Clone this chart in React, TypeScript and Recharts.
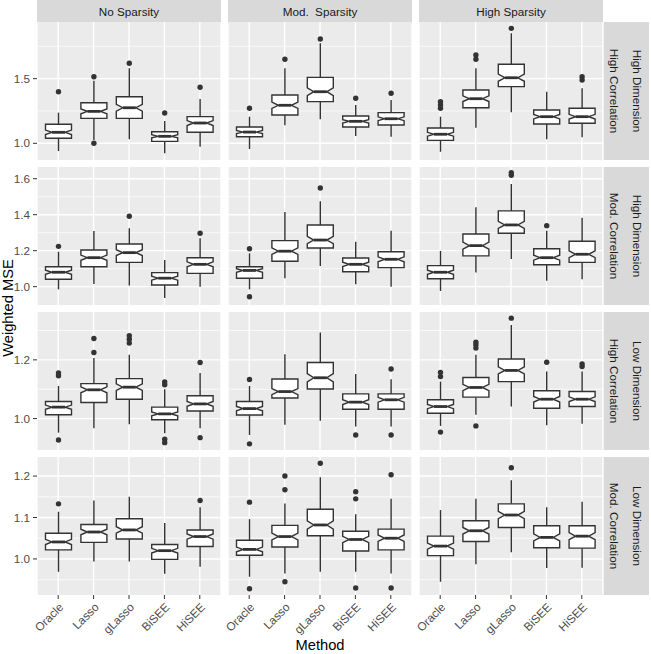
import React from 'react';
import { ComposedChart, Bar, XAxis, YAxis, CartesianGrid } from 'recharts';

const methods = ['Oracle', 'Lasso', 'gLasso', 'BiSEE', 'HiSEE'];
const sparsity = ['No Sparsity', 'Mod.  Sparsity', 'High Sparsity'];
const correlation = ['High Correlation', 'Mod. Correlation', 'High Correlation', 'Mod. Correlation'];
const dimension = ['High Dimension', 'High Dimension', 'Low Dimension', 'Low Dimension'];

// simulation runs behind each box (used for the notch width)
const N_RUNS = 100;

// each row: [lower whisker, Q1, median, Q3, upper whisker] for Oracle, Lasso, gLasso, BiSEE, HiSEE
const hdHcNone = [[0.940, 1.039, 1.085, 1.147, 1.237], [1.026, 1.193, 1.247, 1.314, 1.484], [1.031, 1.193, 1.275, 1.360, 1.580], [0.923, 1.015, 1.054, 1.090, 1.172], [0.974, 1.085, 1.157, 1.206, 1.343]];
const hdHcNoneOut = [[1.399], [1.515, 1.0], [1.619], [1.234], [1.433]];
const hdHcMod = [[0.956, 1.051, 1.087, 1.126, 1.206], [1.139, 1.219, 1.294, 1.374, 1.580], [1.186, 1.322, 1.399, 1.510, 1.773], [1.056, 1.126, 1.170, 1.211, 1.296], [1.051, 1.142, 1.190, 1.237, 1.335]];
const hdHcModOut = [[1.271], [1.650], [1.807], [1.348], [1.387]];
const hdHcHigh = [[0.935, 1.023, 1.070, 1.118, 1.206], [1.121, 1.275, 1.345, 1.412, 1.580], [1.240, 1.438, 1.507, 1.611, 1.851], [1.031, 1.149, 1.206, 1.258, 1.399], [1.046, 1.155, 1.206, 1.271, 1.425]];
const hdHcHighOut = [[1.271, 1.296, 1.322], [1.650, 1.683], [1.889], [], [1.490, 1.515]];

const hdMcNone = [[0.985, 1.041, 1.080, 1.111, 1.194], [1.015, 1.111, 1.161, 1.204, 1.309], [1.006, 1.135, 1.189, 1.237, 1.324], [0.937, 1.009, 1.047, 1.078, 1.148], [1.000, 1.074, 1.124, 1.161, 1.269]];
const hdMcNoneOut = [[1.224], [], [1.391], [], [1.297]];
const hdMcMod = [[0.985, 1.047, 1.090, 1.111, 1.185], [1.047, 1.141, 1.197, 1.256, 1.415], [1.115, 1.215, 1.259, 1.343, 1.474], [1.013, 1.083, 1.124, 1.159, 1.250], [1.000, 1.106, 1.152, 1.194, 1.311]];
const hdMcModOut = [[1.211, 0.944], [], [1.548], [], []];
const hdMcHigh = [[0.976, 1.044, 1.080, 1.117, 1.198], [1.078, 1.171, 1.228, 1.293, 1.441], [1.154, 1.297, 1.343, 1.421, 1.571], [1.033, 1.122, 1.161, 1.211, 1.311], [1.041, 1.135, 1.180, 1.252, 1.383]];
const hdMcHighOut = [[], [], [1.619, 1.633], [1.339], []];

const ldHcNone = [[0.952, 1.013, 1.039, 1.058, 1.111], [0.967, 1.055, 1.098, 1.119, 1.206], [0.981, 1.066, 1.107, 1.136, 1.217], [0.950, 0.996, 1.016, 1.039, 1.100], [0.967, 1.026, 1.050, 1.078, 1.155]];
const ldHcNoneOut = [[1.146, 1.155, 0.927], [1.225, 1.273], [1.257, 1.270, 1.282], [1.115, 1.125, 0.930, 0.918], [1.191, 0.935]];
const ldHcMod = [[0.944, 1.012, 1.034, 1.058, 1.111], [0.979, 1.070, 1.092, 1.135, 1.219], [0.993, 1.101, 1.139, 1.191, 1.293], [0.973, 1.032, 1.056, 1.084, 1.152], [0.973, 1.032, 1.064, 1.084, 1.134]];
const ldHcModOut = [[1.133, 0.914], [], [], [0.944], [1.169, 0.944]];
const ldHcHigh = [[0.975, 1.018, 1.041, 1.064, 1.126], [1.013, 1.073, 1.106, 1.140, 1.217], [1.041, 1.126, 1.164, 1.203, 1.319], [0.977, 1.035, 1.066, 1.095, 1.160], [0.982, 1.041, 1.066, 1.092, 1.160]];
const ldHcHighOut = [[1.143, 1.157, 0.954], [1.240, 1.251, 1.260, 0.975], [1.342], [1.192], [1.177, 1.186]];

const ldMcNone = [[0.969, 1.022, 1.041, 1.062, 1.114], [0.994, 1.040, 1.065, 1.083, 1.141], [0.994, 1.048, 1.070, 1.097, 1.150], [0.964, 0.999, 1.020, 1.035, 1.087], [0.981, 1.030, 1.054, 1.070, 1.125]];
const ldMcNoneOut = [[1.133], [], [], [], [1.141]];
const ldMcMod = [[0.957, 1.009, 1.023, 1.045, 1.096], [0.965, 1.029, 1.054, 1.081, 1.134], [0.969, 1.056, 1.082, 1.120, 1.197], [0.969, 1.019, 1.047, 1.067, 1.108], [0.965, 1.022, 1.050, 1.072, 1.145]];
const ldMcModOut = [[1.137, 0.928], [1.167, 1.200, 0.945], [1.231], [1.145, 1.162, 0.930], [1.203, 0.930]];
const ldMcHigh = [[0.945, 1.008, 1.031, 1.055, 1.118], [0.987, 1.042, 1.068, 1.092, 1.145], [1.016, 1.076, 1.106, 1.133, 1.190], [0.978, 1.027, 1.052, 1.080, 1.125], [0.979, 1.026, 1.055, 1.080, 1.138]];
const ldMcHighOut = [[], [], [1.220], [], []];

// y scales are free per row
const rowDomains = [[0.871, 1.938], [0.898, 1.665], [0.893, 1.363], [0.913, 1.246]];
const rowTicks = [[1.0, 1.5], [1.0, 1.2, 1.4, 1.6], [1.0, 1.2], [1.0, 1.1, 1.2]];
const rowMinor = [[1.25, 1.75], [0.9, 1.1, 1.3, 1.5], [0.9, 1.1, 1.3], [0.95, 1.05, 1.15]];

const panelStats = [
  [[hdHcNone, hdHcNoneOut], [hdHcMod, hdHcModOut], [hdHcHigh, hdHcHighOut]],
  [[hdMcNone, hdMcNoneOut], [hdMcMod, hdMcModOut], [hdMcHigh, hdMcHighOut]],
  [[ldHcNone, ldHcNoneOut], [ldHcMod, ldHcModOut], [ldHcHigh, ldHcHighOut]],
  [[ldMcNone, ldMcNoneOut], [ldMcMod, ldMcModOut], [ldMcHigh, ldMcHighOut]],
];

const FONT = '"Liberation Sans", Arial, Helvetica, sans-serif';
const PANEL_LEFT = [37, 228, 419];
const PANEL_W = 184;
const PANEL_TOP = [22, 167, 312, 457];
const PANEL_H = 138;
const Y_AXIS_W = 37;
const X_AXIS_H = 56;

const toRows = (stats: number[][], out: number[][]) =>
  methods.map((m, i) => ({
    method: m,
    lo: stats[i][0], q1: stats[i][1], med: stats[i][2], q3: stats[i][3], hi: stats[i][4],
    out: out[i],
  }));

const BoxShape = (props: any) => {
  const { x, y, width, height, payload } = props;
  const { lo, q1, med, q3, hi, out } = payload;
  const py = (v: number) => y + (height * (hi - v)) / (hi - lo);
  const cx = x + width / 2;
  const notch = (1.58 * (q3 - q1)) / Math.sqrt(N_RUNS);
  const ind = width * 0.25;
  const x0 = x;
  const x1 = x + width;
  const pts = [
    [x0, py(q3)], [x0, py(med + notch)], [x0 + ind, py(med)], [x0, py(med - notch)], [x0, py(q1)],
    [x1, py(q1)], [x1, py(med - notch)], [x1 - ind, py(med)], [x1, py(med + notch)], [x1, py(q3)],
  ].map((p) => p.join(',')).join(' ');
  return (
    <g>
      <line x1={cx} x2={cx} y1={py(hi)} y2={py(q3)} stroke="#333333" strokeWidth={1.4} />
      <line x1={cx} x2={cx} y1={py(q1)} y2={py(lo)} stroke="#333333" strokeWidth={1.4} />
      <polygon points={pts} fill="#ffffff" stroke="#333333" strokeWidth={1.4} />
      <line x1={x0 + ind} x2={x1 - ind} y1={py(med)} y2={py(med)} stroke="#333333" strokeWidth={2.8} />
      {out.map((v: number, i: number) => (
        <circle key={i} cx={cx} cy={py(v)} r={2.7} fill="#333333" />
      ))}
    </g>
  );
};

const AngledTick = (props: any) => {
  const { x, y, payload } = props;
  return (
    <text x={x} y={y} dy="0.72em" textAnchor="end" transform={`rotate(-45, ${x}, ${y})`}
      fontSize={11.7} fill="#4D4D4D" fontFamily={FONT}>
      {payload.value}
    </text>
  );
};

function Panel({ row, col }: { row: number; col: number }) {
  const [stats, out] = panelStats[row][col];
  const data = toRows(stats, out);
  const showY = col === 0;
  const showX = row === 3;
  const w = PANEL_W + (showY ? Y_AXIS_W : 0);
  const h = PANEL_H + (showX ? X_AXIS_H : 0);
  return (
    <div style={{ position: 'absolute', left: PANEL_LEFT[col] - (showY ? Y_AXIS_W : 0), top: PANEL_TOP[row] }}>
      <ComposedChart width={w} height={h} data={data} margin={{ top: 0, right: 0, bottom: 0, left: 0 }}>
        <CartesianGrid fill="#EBEBEB" stroke="#ffffff" strokeWidth={0.7} vertical={false} horizontalValues={rowMinor[row]} />
        <CartesianGrid stroke="#ffffff" strokeWidth={1.4} horizontalValues={rowTicks[row]} />
        <XAxis dataKey="method" hide={!showX} height={X_AXIS_H} padding={{ left: 3.5, right: 3.5 }}
          axisLine={false} tickLine={{ stroke: '#333333' }} tickSize={4} tickMargin={3}
          tick={<AngledTick />} interval={0} />
        <YAxis type="number" domain={rowDomains[row]} allowDataOverflow ticks={rowTicks[row]} hide={!showY}
          width={Y_AXIS_W} axisLine={false} tickLine={{ stroke: '#333333' }} tickSize={4} tickMargin={3}
          tickFormatter={(v: number) => v.toFixed(1)}
          tick={{ fontSize: 11.7, fill: '#4D4D4D', fontFamily: FONT }} />
        <Bar dataKey={(d: any) => [d.lo, d.hi]} barSize={26} shape={BoxShape} isAnimationActive={false} />
      </ComposedChart>
    </div>
  );
}

export default function App() {
  const rightStrip1 = PANEL_LEFT[2] + PANEL_W;
  return (
    <div style={{ position: 'absolute', left: 0, top: 0, width: 651, height: 654, background: '#ffffff', fontFamily: FONT }}>
      <style>{'.recharts-surface{overflow:visible}'}</style>
      <svg width={651} height={654} style={{ position: 'absolute', left: 0, top: 0 }}>
        {sparsity.map((s, c) => (
          <g key={s}>
            <rect x={PANEL_LEFT[c]} y={0} width={PANEL_W} height={PANEL_TOP[0]} fill="#D9D9D9" />
            <text x={PANEL_LEFT[c] + PANEL_W / 2} y={PANEL_TOP[0] / 2} textAnchor="middle" dominantBaseline="central"
              fontSize={11.7} fill="#1A1A1A" style={{ whiteSpace: 'pre' }}>{s}</text>
          </g>
        ))}
        {correlation.map((c, r) => (
          <g key={r}>
            <rect x={rightStrip1} y={PANEL_TOP[r]} width={23} height={PANEL_H} fill="#D9D9D9" />
            <rect x={rightStrip1 + 23} y={PANEL_TOP[r]} width={23} height={PANEL_H} fill="#D9D9D9" />
            <text transform={`translate(${rightStrip1 + 11.5}, ${PANEL_TOP[r] + PANEL_H / 2}) rotate(90)`}
              textAnchor="middle" dominantBaseline="central" fontSize={11.7} fill="#1A1A1A">{c}</text>
            <text transform={`translate(${rightStrip1 + 34.5}, ${PANEL_TOP[r] + PANEL_H / 2}) rotate(90)`}
              textAnchor="middle" dominantBaseline="central" fontSize={11.7} fill="#1A1A1A">{dimension[r]}</text>
          </g>
        ))}
        <text transform="translate(12.5, 308) rotate(-90)" textAnchor="middle" fontSize={14.7} fill="#000000">Weighted MSE</text>
        <text x={(PANEL_LEFT[0] + rightStrip1) / 2} y={650} textAnchor="middle" fontSize={14.7} fill="#000000">Method</text>
      </svg>
      {[0, 1, 2, 3].map((r) => [0, 1, 2].map((c) => <Panel key={`${r}-${c}`} row={r} col={c} />))}
    </div>
  );
}
